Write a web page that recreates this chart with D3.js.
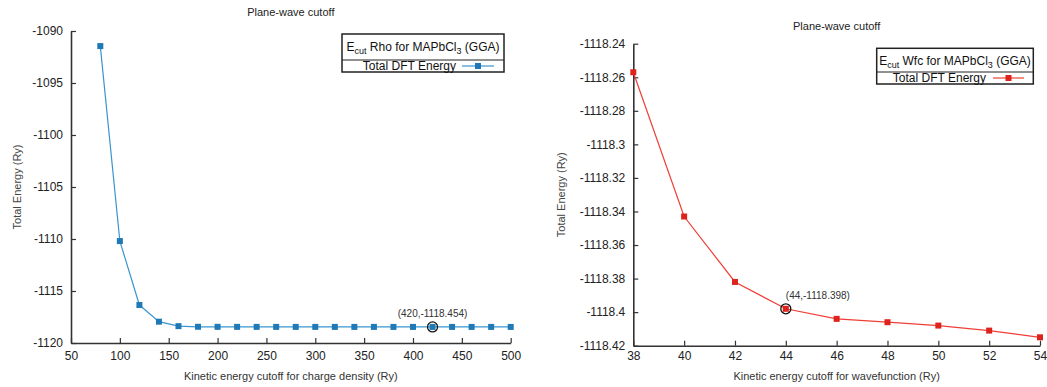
<!DOCTYPE html>
<html>
<head>
<meta charset="utf-8">
<script src="https://cdn.jsdelivr.net/npm/d3@7"></script>
<style>
  html, body { margin: 0; padding: 0; background: #fff; }
  svg { display: block; font-family: "Liberation Sans", Arial, sans-serif; }
</style>
</head>
<body>
<svg id="chart" width="1047" height="387"></svg>
<script>
// Charge-density cutoff scan (Ry) and total DFT energy (Ry)
const rhoCutoffs = [80, 100, 120, 140, 160, 180, 200, 220, 240, 260, 280, 300, 320, 340, 360, 380, 400, 420, 440, 460, 480, 500];
const rhoEnergy = [-1091.45, -1110.2, -1116.35, -1117.95, -1118.38, -1118.44, -1118.445, -1118.448, -1118.45, -1118.451, -1118.452, -1118.452, -1118.453, -1118.453, -1118.453, -1118.454, -1118.454, -1118.454, -1118.454, -1118.454, -1118.454, -1118.454];
const rhoXTicks = [50, 100, 150, 200, 250, 300, 350, 400, 450, 500];
const rhoYTicks = [-1120, -1115, -1110, -1105, -1100, -1095, -1090];

// Wavefunction cutoff scan (Ry) and total DFT energy (Ry)
const wfcCutoffs = [38, 40, 42, 44, 46, 48, 50, 52, 54];
const wfcEnergy = [-1118.257, -1118.343, -1118.382, -1118.398, -1118.404, -1118.406, -1118.408, -1118.411, -1118.415];
const wfcXTicks = [38, 40, 42, 44, 46, 48, 50, 52, 54];
const wfcYTicks = [-1118.42, -1118.4, -1118.38, -1118.36, -1118.34, -1118.32, -1118.3, -1118.28, -1118.26, -1118.24];

const svg = d3.select("#chart");

function drawPanel(p) {
  const x = d3.scaleLinear().domain(p.xDomain).range([p.left, p.right]);
  const y = d3.scaleLinear().domain(p.yDomain).range([p.bottom, p.top]);
  const g = svg.append("g");

  // title
  g.append("text")
    .attr("x", (p.left + p.right) / 2).attr("y", p.titleY)
    .attr("text-anchor", "middle").attr("font-size", 11).attr("fill", "#222")
    .text("Plane-wave cutoff");

  // axes (ticks point inward)
  const xAxis = g.append("g").attr("transform", `translate(0,${p.bottom})`)
    .call(d3.axisBottom(x).tickValues(p.xTicks).tickFormat(d => String(d))
      .tickSizeInner(-5).tickSizeOuter(0).tickPadding(p.xPad));
  const yAxis = g.append("g").attr("transform", `translate(${p.left},0)`)
    .call(d3.axisLeft(y).tickValues(p.yTicks).tickFormat(d => String(d))
      .tickSizeInner(-5).tickSizeOuter(0).tickPadding(8));
  [xAxis, yAxis].forEach(a => {
    a.select(".domain").attr("stroke", "#333").attr("stroke-width", 1.6);
    a.selectAll(".tick line").attr("stroke", "#333").attr("stroke-width", 1.2);
    a.selectAll(".tick text").attr("fill", "#222").attr("font-size", 12)
      .attr("font-family", "\"Liberation Sans\", Arial, sans-serif");
  });

  // axis labels
  g.append("text")
    .attr("x", (p.left + p.right) / 2).attr("y", 380)
    .attr("text-anchor", "middle").attr("font-size", 11).attr("fill", "#333")
    .text(p.xLabel);
  g.append("text")
    .attr("transform", `translate(${p.yLabelX},${(p.top + p.bottom) / 2}) rotate(-90)`)
    .attr("text-anchor", "middle").attr("font-size", 11).attr("fill", "#444")
    .text("Total Energy (Ry)");

  // series
  const pts = p.xs.map((v, i) => [v, p.ys[i]]);
  g.append("path")
    .datum(pts)
    .attr("fill", "none").attr("stroke", p.lineColor).attr("stroke-width", 1.2)
    .attr("d", d3.line().x(d => x(d[0])).y(d => y(d[1])));
  g.selectAll("rect.mk").data(pts).join("rect")
    .attr("class", "mk")
    .attr("x", d => x(d[0]) - 3).attr("y", d => y(d[1]) - 3)
    .attr("width", 6).attr("height", 6).attr("fill", p.markColor);

  // highlighted point
  const hx = x(p.xs[p.hi]), hy = y(p.ys[p.hi]);
  g.append("circle").attr("cx", hx).attr("cy", hy).attr("r", 5)
    .attr("fill", "none").attr("stroke", "#111").attr("stroke-width", 1.3);
  g.append("text")
    .attr("x", hx + p.hiDx).attr("y", hy - 10)
    .attr("text-anchor", p.hiAnchor).attr("font-size", 10).attr("fill", "#333")
    .text(`(${p.xs[p.hi]},${p.ys[p.hi].toFixed(3)})`);

  // legend
  const L = p.legend;
  const lg = g.append("g");
  lg.append("rect").attr("x", L.x0).attr("y", L.y0)
    .attr("width", L.x1 - L.x0).attr("height", L.y1 - L.y0)
    .attr("fill", "#fff").attr("stroke", "#222").attr("stroke-width", 1.5);
  lg.append("line").attr("x1", L.x0).attr("x2", L.x1).attr("y1", L.ydiv).attr("y2", L.ydiv)
    .attr("stroke", "#222").attr("stroke-width", 1.2);
  const t = lg.append("text")
    .attr("x", (L.x0 + L.x1) / 2).attr("y", L.titleY)
    .attr("text-anchor", "middle").attr("font-size", 12).attr("fill", "#111");
  t.append("tspan").text("E");
  t.append("tspan").attr("font-size", 9).attr("dy", 3).text("cut");
  t.append("tspan").attr("dy", -3).text(` ${p.legendWord} for MAPbCl`);
  t.append("tspan").attr("font-size", 9).attr("dy", 3).text("3");
  t.append("tspan").attr("dy", -3).text(" (GGA)");
  lg.append("text")
    .attr("x", L.textRight).attr("y", L.entryY)
    .attr("text-anchor", "end").attr("font-size", 12).attr("fill", "#111")
    .text("Total DFT Energy");
  const my = L.entryY - 4;
  lg.append("line").attr("x1", L.lineX0).attr("x2", L.lineX1).attr("y1", my).attr("y2", my)
    .attr("stroke", p.lineColor).attr("stroke-width", 1.2);
  lg.append("rect").attr("x", (L.lineX0 + L.lineX1) / 2 - 3).attr("y", my - 3)
    .attr("width", 6).attr("height", 6).attr("fill", p.markColor);
}

drawPanel({
  xs: rhoCutoffs, ys: rhoEnergy, xTicks: rhoXTicks, yTicks: rhoYTicks,
  xDomain: [50, 500], yDomain: [-1120, -1090],
  left: 71, right: 510.7, top: 31, bottom: 343, xPad: 8,
  titleY: 16, yLabelX: 21,
  xLabel: "Kinetic energy cutoff for charge density (Ry)",
  lineColor: "#3a95cf", markColor: "#1f79b6",
  hi: 17, hiDx: 0, hiAnchor: "middle",
  legendWord: "Rho",
  legend: { x0: 342, x1: 504, y0: 34, y1: 72, ydiv: 60, titleY: 51, entryY: 70,
            textRight: 456, lineX0: 462, lineX1: 494 }
});

drawPanel({
  xs: wfcCutoffs, ys: wfcEnergy, xTicks: wfcXTicks, yTicks: wfcYTicks,
  xDomain: [38, 54], yDomain: [-1118.42, -1118.24],
  left: 633.3, right: 1040, top: 43.7, bottom: 345.7, xPad: 6,
  titleY: 30, yLabelX: 565,
  xLabel: "Kinetic energy cutoff for wavefunction (Ry)",
  lineColor: "#ef3e36", markColor: "#de231d",
  hi: 3, hiDx: 0, hiAnchor: "start",
  legendWord: "Wfc",
  legend: { x0: 876.7, x1: 1033.3, y0: 48.3, y1: 84, ydiv: 72, titleY: 65, entryY: 82,
            textRight: 986, lineX0: 993, lineX1: 1024 }
});
</script>
</body>
</html>
